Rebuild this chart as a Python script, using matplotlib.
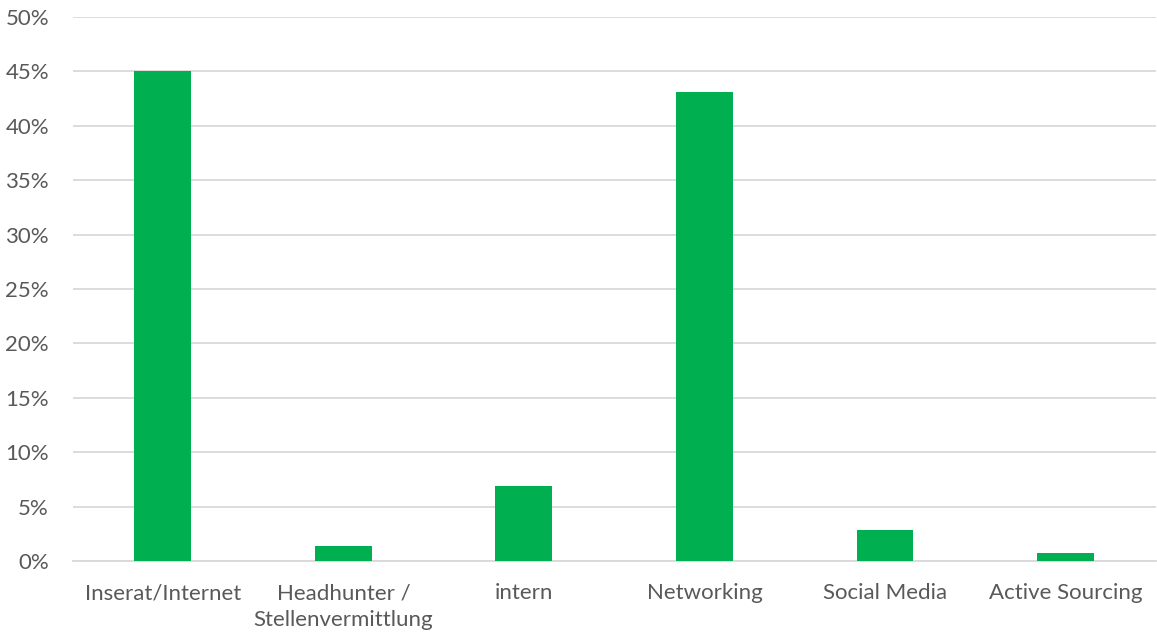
import matplotlib
matplotlib.use("Agg")
import matplotlib.pyplot as plt
from matplotlib.ticker import PercentFormatter, MultipleLocator

categories = ["Inserat/Internet", "Headhunter /\nStellenvermittlung", "intern",
              "Networking", "Social Media", "Active Sourcing"]
values = [45.0, 1.4, 6.85, 43.15, 2.85, 0.7]

plt.rcParams['font.family'] = ['Lato', 'DejaVu Sans']
text_color = "#595959"
grid_color = "#D9D9D9"

fig = plt.figure(figsize=(11.57, 6.35), dpi=100)
ax = fig.add_axes([0.0627, 0.1165, 0.9363, 0.8567])
x = range(len(categories))
ax.bar(x, values, width=0.315, color="#00B050", zorder=3)
ax.set_xlim(-0.5, len(categories) - 0.5)
ax.set_ylim(0, 50)
ax.yaxis.set_major_locator(MultipleLocator(5))
ax.yaxis.set_major_formatter(PercentFormatter(decimals=0))
ax.grid(axis='y', color=grid_color, linewidth=1.3, zorder=0)
ax.set_axisbelow(True)
for s in ["top", "right", "left"]:
    ax.spines[s].set_visible(False)
ax.spines["bottom"].set_color(grid_color)
ax.spines["bottom"].set_linewidth(1.3)
ax.set_xticks(list(x))
ax.set_xticklabels(categories, fontsize=16, color=text_color, linespacing=1.4)
ax.tick_params(axis='x', length=0, pad=16)
ax.tick_params(axis='y', length=0, pad=17, labelsize=16, labelcolor=text_color)
for lbl in ax.get_yticklabels():
    lbl.set_horizontalalignment('right')
fig.savefig("out.png", dpi=100)
